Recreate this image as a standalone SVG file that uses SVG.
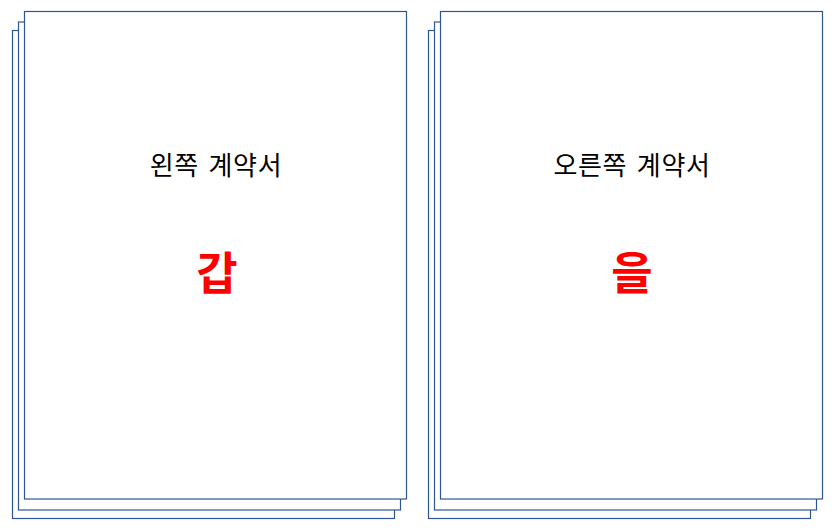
<svg xmlns="http://www.w3.org/2000/svg" width="836" height="528" viewBox="0 0 836 528">
<style>
.pg{fill:#fff;stroke:#2F5597;stroke-width:1.2}
.t{font-family:"Noto Sans CJK KR","Noto Sans",sans-serif;font-size:26px;fill:#000;text-anchor:middle;word-spacing:3px;letter-spacing:0.7px}
.b{font-family:"Noto Sans CJK KR","Noto Sans",sans-serif;font-size:45px;font-weight:bold;fill:#FF0000;text-anchor:middle}
</style>
<rect width="836" height="528" fill="#fff"/>
<g id="left-contract">
<rect class="pg" x="12.5" y="30.5" width="382" height="488"/>
<rect class="pg" x="18.5" y="22" width="382" height="488"/>
<rect class="pg" x="24.5" y="11.5" width="382" height="487.5"/>
<text class="t" x="216" y="175">왼쪽 계약서</text>
<text class="b" x="217" y="290">갑</text>
</g>
<g id="right-contract">
<rect class="pg" x="428.5" y="30.5" width="382" height="488"/>
<rect class="pg" x="434.5" y="22" width="382" height="488"/>
<rect class="pg" x="440.5" y="11.5" width="382" height="487.5"/>
<text class="t" x="632" y="175">오른쪽 계약서</text>
<text class="b" x="632" y="290">을</text>
</g>
<g id="connectors"></g>
</svg>
